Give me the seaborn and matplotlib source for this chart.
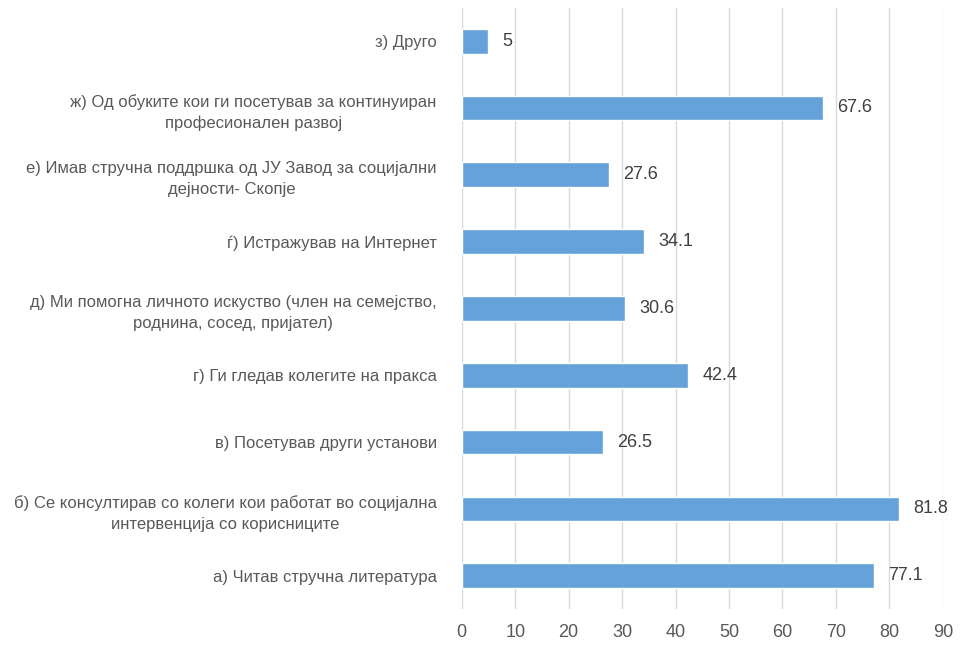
import pandas as pd
import seaborn as sns
import matplotlib.pyplot as plt

# categories top -> bottom as in the chart
categories = [
    "з) Друго",
    "ж) Од обуките кои ги посетував за континуиран\nпрофесионален развој",
    "е) Имав стручна поддршка од ЈУ Завод за социјални\nдејности- Скопје",
    "ѓ) Истражував на Интернет",
    "д) Ми помогна личното искуство (член на семејство,\nроднина, сосед, пријател)",
    "г) Ги гледав колегите на пракса",
    "в) Посетував други установи",
    "б) Се консултирав со колеги кои работат во социјална\nинтервенција со корисниците",
    "а) Читав стручна литература",
]
values = [5, 67.6, 27.6, 34.1, 30.6, 42.4, 26.5, 81.8, 77.1]
value_labels = ["5", "67.6", "27.6", "34.1", "30.6", "42.4", "26.5", "81.8", "77.1"]
x_ticks = [0, 10, 20, 30, 40, 50, 60, 70, 80, 90]

df = pd.DataFrame({"category": categories, "value": values})

sns.set_style("white")
plt.rcParams['font.family'] = ['Liberation Sans', 'DejaVu Sans']

fig = plt.figure(figsize=(9.62, 6.48), dpi=100)
ax = fig.add_axes([0.480, 0.060, 0.500, 0.928])

sns.barplot(data=df, x="value", y="category", color="#65a2d9", width=0.37,
            saturation=1, ax=ax, orient="h")

for i, v in enumerate(values):
    ax.text(v + 2.6, i, value_labels[i], va="center", ha="left",
            fontsize=13, color="#404040")

ax.set_xlim(0, 90)
ax.set_xticks(x_ticks)
ax.set_xticklabels([str(t) for t in x_ticks])
ax.grid(axis="x", color="#d9d9d9", linewidth=1)
ax.set_axisbelow(True)
for s in ax.spines.values():
    s.set_visible(False)
ax.set_xlabel("")
ax.set_ylabel("")
ax.tick_params(axis="x", colors="#595959", labelsize=13, length=0, pad=11)
ax.tick_params(axis="y", colors="#595959", labelsize=12, length=0, pad=18)
for lab in ax.get_yticklabels():
    lab.set_multialignment("center")
    lab.set_linespacing(1.5)

fig.savefig("out.png", dpi=100)
